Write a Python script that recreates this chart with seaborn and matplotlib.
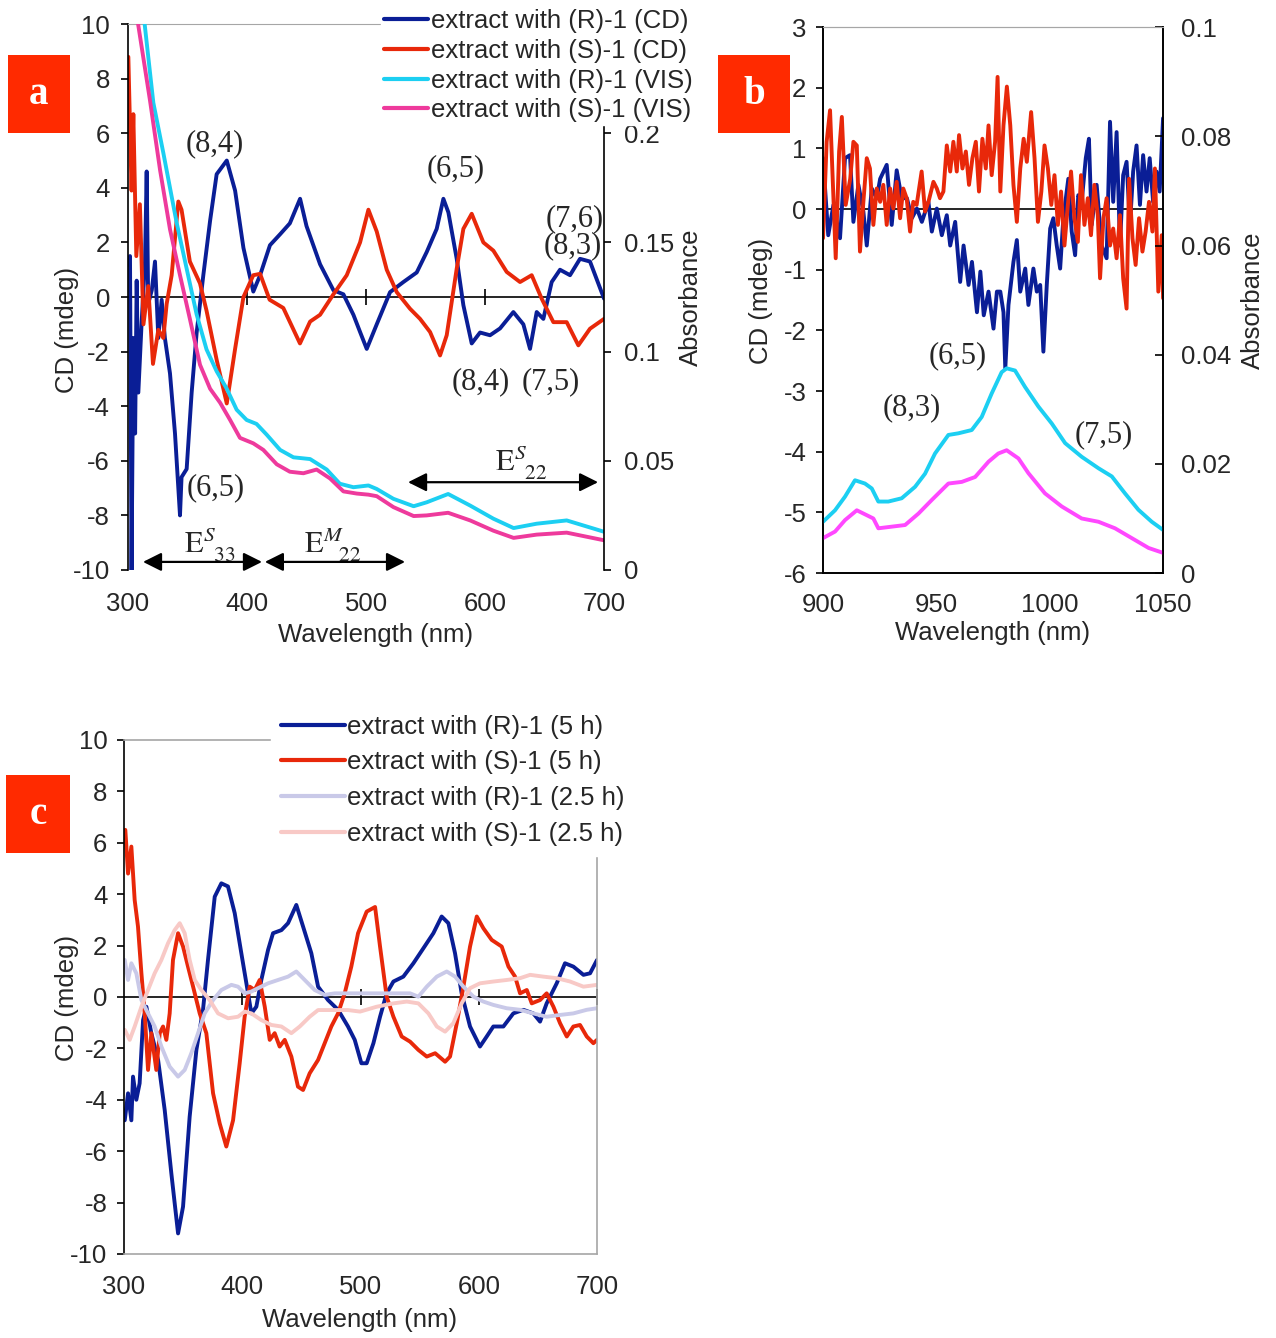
import matplotlib
matplotlib.use("Agg")
import matplotlib.pyplot as plt
import seaborn as sns
from matplotlib.lines import Line2D
from matplotlib.patches import Rectangle

# ---------------- panel a : 300-700 nm ----------------
A_R_CD_WL = [300.0, 301.7, 303.0, 304.5, 306.0, 307.3, 308.7, 311.5, 314.3, 315.7,
             317.0, 320.0, 322.7, 325.5, 328.3, 331.0, 335.3, 339.5, 343.7, 345.0,
             349.3, 353.5, 357.7, 363.3, 369.0, 374.5, 383.0, 390.0, 397.0, 405.3,
             411.0, 419.3, 427.8, 436.0, 444.6, 450.0, 461.4, 472.6, 481.0, 489.4,
             495.0, 500.6, 509.0, 520.2, 531.4, 542.6, 551.0, 559.4, 565.0, 569.2,
             576.2, 581.8, 588.8, 595.8, 604.2, 612.6, 623.8, 632.2, 637.8, 643.4,
             649.0, 656.0, 663.0, 671.4, 679.8, 688.2, 700.0]
A_R_CD = [1.2, 1.5, -10.0, -1.5, -5.0, 0.6, -3.5, -0.9, 1.3, 4.6,
          -0.25, 0.25, 1.3, -1.5, -0.1, -1.5, -2.8, -5.0, -8.0, -6.6,
          -6.3, -3.5, -1.3, 0.8, 2.8, 4.5, 5.0, 3.9, 1.8, 0.2,
          0.8, 1.9, 2.3, 2.7, 3.6, 2.6, 1.2, 0.25, 0.1, -0.65,
          -1.28, -1.9, -1.0, 0.18, 0.55, 0.9, 1.65, 2.5, 3.6, 3.1,
          1.4, -0.3, -1.7, -1.3, -1.4, -1.15, -0.55, -1.0, -1.9, -0.55,
          -0.8, 0.55, 1.0, 0.8, 1.4, 1.3, -0.06]

A_S_CD_WL = [300.3, 303.0, 304.5, 307.0, 310.0, 313.0, 317.0, 321.0, 325.5, 329.7,
             332.5, 336.7, 342.3, 345.0, 352.0, 360.5, 366.0, 374.5, 383.0, 390.0,
             397.0, 405.3, 411.0, 419.0, 430.5, 444.5, 453.0, 461.4, 472.6, 483.8,
             495.0, 502.0, 509.0, 517.4, 525.8, 537.0, 545.4, 553.8, 562.2, 567.8,
             576.2, 581.8, 588.8, 598.6, 607.0, 618.2, 629.4, 639.2, 647.6, 657.4,
             668.6, 678.4, 688.2, 700.0]
A_S_CD = [8.8, 3.9, 6.7, 1.5, 3.4, -1.0, 0.4, -2.45, -1.2, -1.5,
          -0.25, 0.8, 3.5, 3.2, 1.3, 0.5, -0.5, -2.3, -3.9, -1.9,
          0.0, 0.8, 0.85, -0.1, -0.4, -1.7, -0.9, -0.65, 0.1, 0.8,
          2.0, 3.2, 2.4, 1.0, 0.18, -0.43, -0.8, -1.28, -2.14, -1.4,
          1.04, 2.5, 3.05, 2.0, 1.7, 0.92, 0.55, 0.8, -0.06, -0.92,
          -0.92, -1.77, -1.16, -0.8]

A_R_VIS_WL = [314.0, 321.3, 329.7, 340.9, 349.3, 357.7, 366.0, 374.5, 383.0, 391.3,
              399.7, 408.0, 416.5, 427.8, 439.0, 453.0, 467.0, 478.0, 489.4, 502.0,
              509.0, 523.0, 540.0, 551.0, 569.0, 587.5, 607.0, 624.0, 643.4, 668.6,
              691.0, 700.0]
A_R_VIS = [0.25, 0.214, 0.191, 0.159, 0.138, 0.117, 0.101, 0.091, 0.083, 0.0734,
           0.0687, 0.0669, 0.062, 0.055, 0.0516, 0.0508, 0.046, 0.0395, 0.0379, 0.0387,
           0.0371, 0.0326, 0.0292, 0.031, 0.0348, 0.0295, 0.0235, 0.0192, 0.0212, 0.0227,
           0.019, 0.0175]

A_S_VIS_WL = [308.5, 318.5, 327.0, 335.3, 343.7, 352.0, 360.5, 369.0, 377.4, 385.8,
              394.1, 405.3, 413.7, 425.0, 436.0, 447.4, 458.5, 469.8, 481.0, 492.2,
              502.0, 509.0, 523.0, 540.0, 551.0, 569.0, 587.5, 607.0, 624.0, 643.4,
              668.6, 700.0]
A_S_VIS = [0.25, 0.215, 0.183, 0.156, 0.135, 0.115, 0.094, 0.083, 0.0766, 0.0687,
           0.0605, 0.058, 0.055, 0.0484, 0.045, 0.0443, 0.046, 0.0419, 0.036, 0.035,
           0.0345, 0.0338, 0.0288, 0.0247, 0.025, 0.0262, 0.0227, 0.018, 0.0147, 0.0162,
           0.0171, 0.0136]

A_LABELS = ["extract with (R)-1 (CD)", "extract with (S)-1 (CD)",
            "extract with (R)-1 (VIS)", "extract with (S)-1 (VIS)"]
A_XTICKS = [300, 400, 500, 600, 700]
A_CD_TICKS = [-10, -8, -6, -4, -2, 0, 2, 4, 6, 8, 10]
A_ABS_TICKS = [0, 0.05, 0.1, 0.15, 0.2]
A_ABS_LABELS = ["0", "0.05", "0.1", "0.15", "0.2"]
A_ZERO_TICKS = [400, 500, 600]

# ---------------- panel b : 900-1050 nm ----------------
B_R_CD_WL = [900.0, 902.3, 904.6, 907.5, 909.7, 911.9, 913.4, 915.6, 917.8, 919.3,
             921.5, 923.7, 925.2, 928.1, 930.3, 932.5, 934.7, 937.0, 939.2, 941.4,
             943.6, 946.5, 948.0, 950.2, 952.4, 954.6, 956.1, 958.3, 960.5, 962.0,
             964.2, 965.7, 967.9, 969.4, 970.9, 973.0, 975.2, 976.7, 978.2, 979.6,
             980.4, 981.8, 984.0, 985.5, 987.0, 989.2, 990.6, 992.8, 994.3, 995.8,
             997.2, 998.7, 1000.2, 1001.6, 1003.1, 1004.6, 1006.0, 1008.2, 1009.7, 1011.2,
             1012.6, 1014.1, 1015.9, 1017.3, 1018.5, 1020.7, 1022.9, 1025.1, 1026.6, 1028.0,
             1029.5, 1031.0, 1032.4, 1033.9, 1035.4, 1036.8, 1038.3, 1039.8, 1041.2, 1042.7,
             1044.1, 1045.6, 1047.1, 1048.5, 1050.0]
B_R_CD = [0.84, -0.43, 0.07, -0.48, 0.84, 0.89, -0.21, 0.4, -0.04, -0.6,
          0.34, 0.18, 0.5, 0.73, -0.26, 0.64, 0.18, 0.18, -0.15, 0.01,
          -0.21, 0.12, -0.37, 0.01, -0.43, -0.1, -0.6, -0.21, -1.2, -0.6,
          -1.25, -0.87, -1.7, -1.03, -1.75, -1.36, -1.97, -1.36, -1.36, -1.7,
          -2.63, -1.58, -0.87, -0.51, -1.36, -0.98, -1.58, -0.98, -1.36, -1.25,
          -2.35, -1.25, -0.32, -0.15, -0.6, -0.98, -0.15, 0.5, -0.37, -0.76,
          0.23, 0.12, 0.84, 1.16, -0.26, 0.4, -0.6, -0.81, 1.44, 0.12,
          1.27, -0.6, 0.56, 0.78, -0.26, 0.62, 1.05, 0.07, 0.89, 0.29,
          0.84, 0.12, 0.62, 0.29, 1.5]

B_S_CD_WL = [900.0, 901.6, 903.1, 904.6, 905.6, 907.1, 908.3, 910.0, 912.0, 913.4,
             914.9, 916.3, 917.8, 919.3, 920.7, 922.2, 923.7, 925.2, 926.6, 928.1,
             929.6, 931.0, 932.5, 934.0, 935.4, 936.9, 938.4, 939.8, 941.3, 943.5,
             945.0, 946.5, 948.7, 950.2, 951.6, 953.1, 954.6, 956.1, 957.5, 959.0,
             960.0, 961.5, 963.0, 964.4, 965.9, 967.4, 968.8, 970.3, 971.8, 973.0,
             974.4, 975.9, 977.0, 978.2, 979.6, 981.1, 982.6, 984.0, 985.5, 987.0,
             988.5, 989.9, 991.8, 993.3, 994.8, 996.3, 997.7, 999.2, 1000.7, 1002.1,
             1003.6, 1005.0, 1006.5, 1008.0, 1009.4, 1010.9, 1012.4, 1013.8, 1015.3, 1016.8,
             1018.2, 1019.7, 1021.2, 1022.2, 1023.7, 1025.1, 1026.6, 1028.0, 1029.5, 1031.0,
             1032.4, 1033.9, 1035.0, 1036.5, 1037.9, 1039.4, 1040.9, 1042.3, 1043.8, 1045.3,
             1046.4, 1047.9, 1049.4, 1050.0]
B_S_CD = [-0.48, 1.11, 1.63, 0.18, -0.81, 0.95, 1.52, 0.07, 0.5, 1.11,
          1.05, -0.7, 0.12, 0.84, 0.67, -0.26, 0.34, 0.12, 0.4, -0.26,
          0.34, 0.01, 0.45, -0.15, 0.34, 0.18, -0.37, 0.12, 0.07, 0.62,
          -0.04, 0.12, 0.45, 0.34, 0.18, 0.29, 1.05, 0.62, 1.11, 0.62,
          1.22, 0.67, 0.95, 0.4, 0.84, 1.11, 0.29, 1.16, 0.67, 1.38,
          0.56, 1.11, 2.18, 0.29, 1.38, 2.02, 1.38, 0.4, -0.21, 0.67,
          1.16, 0.78, 1.6, 0.84, -0.21, 0.29, 1.05, 0.67, 0.07, 0.56,
          -0.26, 0.29, -0.6, 0.07, 0.62, -0.15, -0.54, 0.56, -0.26, 0.18,
          -0.43, 0.4, -0.1, -1.14, -0.15, 0.18, -0.6, -0.32, -0.81, -0.1,
          -1.14, -1.64, 0.5, -0.48, -0.92, -0.15, -0.7, -0.37, 0.12, -0.37,
          0.67, -1.36, -0.43, -1.47]

B_R_VIS_WL = [900.0, 905.3, 909.7, 914.1, 918.5, 921.5, 924.4, 928.8, 934.7, 940.6,
              945.0, 949.4, 955.3, 959.7, 965.6, 970.0, 974.4, 978.8, 981.0, 984.7,
              989.1, 995.0, 1000.9, 1006.8, 1014.1, 1021.5, 1027.4, 1033.2, 1039.1, 1045.0,
              1050.0]
B_R_VIS = [0.0094, 0.0115, 0.0140, 0.0170, 0.0164, 0.0155, 0.0131, 0.0131, 0.0137, 0.0158,
           0.0182, 0.0219, 0.0253, 0.0256, 0.0262, 0.0286, 0.0329, 0.0368, 0.0375, 0.0371,
           0.0341, 0.0305, 0.0274, 0.0238, 0.0213, 0.0192, 0.0177, 0.0146, 0.0116, 0.0094,
           0.0079]

B_S_VIS_WL = [900.0, 905.3, 909.7, 914.9, 919.3, 922.2, 924.4, 930.3, 936.2, 942.1,
              948.0, 955.3, 961.2, 967.1, 973.0, 977.3, 981.0, 986.2, 990.6, 997.9,
              1005.3, 1014.1, 1021.5, 1028.8, 1036.2, 1043.6, 1050.0]
B_S_VIS = [0.0064, 0.0076, 0.0097, 0.0115, 0.0106, 0.0100, 0.0082, 0.0085, 0.0088, 0.0109,
           0.0134, 0.0164, 0.0167, 0.0176, 0.0204, 0.0219, 0.0225, 0.0210, 0.0183, 0.0146,
           0.0122, 0.0100, 0.0094, 0.0082, 0.0064, 0.0046, 0.0037]

B_XTICKS = [900, 950, 1000, 1050]
B_CD_TICKS = [-6, -5, -4, -3, -2, -1, 0, 1, 2, 3]
B_ABS_TICKS = [0, 0.02, 0.04, 0.06, 0.08, 0.1]
B_ABS_LABELS = ["0", "0.02", "0.04", "0.06", "0.08", "0.1"]

# ---------------- panel c : 5 h vs 2.5 h ----------------
C_R5_WL = [300.6, 303.4, 306.2, 307.6, 310.4, 313.2, 316.1, 318.9, 323.1, 328.8,
           334.4, 340.0, 345.7, 349.9, 355.5, 361.2, 366.8, 371.0, 376.7, 382.3,
           387.9, 393.6, 399.2, 404.9, 407.7, 411.9, 416.1, 421.8, 426.0, 433.1,
           438.7, 445.7, 451.4, 458.4, 464.1, 472.5, 481.0, 489.4, 495.1, 500.7,
           505.2, 510.9, 516.5, 522.1, 527.8, 536.2, 544.7, 553.1, 561.6, 568.6,
           574.3, 579.9, 585.5, 592.6, 601.0, 606.7, 612.3, 620.8, 629.2, 637.7,
           646.1, 651.8, 657.4, 665.9, 672.9, 680.0, 688.5, 694.1, 700.0]
C_R5 = [-4.8, -3.75, -4.8, -3.1, -4.0, -3.36, -0.9, -0.38, -1.41, -2.45,
        -4.4, -6.86, -9.2, -8.16, -4.66, -2.06, -0.5, 1.44, 3.9, 4.42,
        4.3, 3.26, 1.7, 0.14, -0.64, -0.38, 0.66, 1.83, 2.48, 2.6,
        2.87, 3.58, 2.74, 1.7, 0.4, -0.12, -0.5, -1.15, -1.67, -2.58,
        -2.58, -1.8, -0.77, 0.14, 0.6, 0.79, 1.31, 1.89, 2.48, 3.13,
        2.87, 1.7, 0.14, -1.15, -1.93, -1.54, -1.15, -1.15, -0.64, -0.5,
        -0.64, -0.96, -0.25, 0.53, 1.31, 1.18, 0.86, 0.92, 1.44]

C_S5_WL = [301.1, 303.4, 306.2, 309.0, 311.8, 314.7, 317.5, 320.3, 323.1, 327.3,
           330.2, 333.0, 335.8, 338.6, 341.4, 345.7, 349.9, 354.1, 358.4, 364.0,
           369.6, 375.3, 380.9, 386.5, 392.2, 397.8, 402.0, 406.3, 410.5, 414.7,
           419.0, 423.2, 427.4, 431.6, 435.9, 441.5, 447.1, 451.4, 457.0, 464.1,
           469.7, 475.3, 481.0, 486.6, 492.2, 497.9, 505.2, 512.3, 516.5, 522.1,
           527.8, 534.8, 541.9, 548.9, 556.0, 563.1, 571.5, 575.7, 581.4, 587.0,
           592.6, 598.3, 603.9, 610.9, 619.4, 625.1, 630.7, 634.9, 640.6, 644.8,
           651.8, 657.4, 663.1, 668.7, 674.4, 680.0, 685.6, 691.3, 696.9, 700.0]
C_S5 = [6.5, 4.8, 5.85, 3.77, 2.74, 0.92, -0.64, -2.84, -1.41, -2.84,
        -1.41, -1.15, -1.67, -0.64, 1.44, 2.48, 1.96, 1.18, 0.4, -0.64,
        -1.41, -3.75, -4.92, -5.82, -4.8, -2.58, -0.77, 0.4, 0.27, 0.66,
        -0.38, -1.67, -1.41, -1.93, -1.67, -2.32, -3.49, -3.62, -2.97, -2.45,
        -1.8, -1.15, -0.64, 0.14, 1.18, 2.48, 3.32, 3.5, 1.96, 0.01,
        -0.77, -1.54, -1.74, -2.06, -2.32, -2.19, -2.52, -2.32, -1.02, 0.4,
        1.96, 3.13, 2.67, 2.22, 1.96, 1.18, 0.79, 0.14, 0.27, -0.25,
        -0.12, 0.14, -0.38, -1.02, -1.54, -1.15, -1.09, -1.54, -1.8, -1.67]

C_R25_WL = [300.6, 303.4, 306.2, 310.4, 314.7, 320.3, 325.9, 331.6, 338.6, 345.7,
            351.3, 356.9, 362.6, 368.2, 375.3, 382.3, 390.8, 396.4, 402.0, 407.7,
            413.3, 421.8, 430.2, 438.7, 445.7, 452.8, 461.2, 469.7, 478.2, 492.2,
            513.7, 527.8, 541.9, 548.9, 556.0, 564.5, 572.9, 580.0, 587.0, 595.5,
            603.9, 612.3, 623.6, 634.9, 646.1, 657.4, 668.7, 680.0, 691.3, 700.0]
C_R25 = [1.44, 0.66, 1.31, 0.92, -0.12, -0.64, -1.15, -1.93, -2.71, -3.1,
         -2.84, -2.19, -1.41, -0.64, -0.12, 0.27, 0.47, 0.4, 0.14, 0.21,
         0.34, 0.53, 0.66, 0.79, 0.99, 0.66, 0.27, 0.08, 0.14, 0.14,
         0.14, 0.14, 0.14, 0.01, 0.4, 0.79, 0.99, 0.79, 0.4, 0.01,
         -0.18, -0.31, -0.44, -0.5, -0.64, -0.77, -0.7, -0.64, -0.5, -0.44]

C_S25_WL = [300.6, 304.8, 309.0, 314.7, 320.3, 325.9, 331.6, 337.2, 342.8, 347.1,
            351.3, 355.5, 359.8, 365.4, 372.4, 379.5, 388.0, 396.4, 402.0, 407.7,
            416.1, 424.6, 433.1, 441.5, 448.6, 457.0, 464.1, 475.3, 489.4, 499.6,
            513.7, 527.8, 539.1, 548.9, 557.4, 564.5, 571.5, 578.5, 585.5, 592.6,
            601.0, 612.3, 623.6, 634.9, 643.4, 654.7, 665.9, 677.2, 688.5, 700.0]
C_S25 = [-1.28, -1.67, -1.15, -0.38, 0.27, 0.92, 1.44, 2.09, 2.6, 2.87,
         2.48, 1.44, 0.66, 0.27, -0.12, -0.64, -0.83, -0.77, -0.57, -0.64,
         -0.9, -1.09, -1.15, -1.41, -1.15, -0.77, -0.51, -0.51, -0.51, -0.57,
         -0.38, -0.25, -0.18, -0.25, -0.64, -1.15, -1.35, -1.02, -0.25, 0.34,
         0.53, 0.6, 0.66, 0.73, 0.86, 0.79, 0.73, 0.6, 0.4, 0.47]

C_LABELS = ["extract with (R)-1 (5 h)", "extract with (S)-1 (5 h)",
            "extract with (R)-1 (2.5 h)", "extract with (S)-1 (2.5 h)"]
C_XTICKS = [300, 400, 500, 600, 700]
C_CD_TICKS = [-10, -8, -6, -4, -2, 0, 2, 4, 6, 8, 10]
C_ZERO_TICKS = [400, 500, 600, 700]

# colours
NAVY = "#0a1e96"
RED = "#e8280a"
CYAN = "#1ccff2"
PINK = "#ee3a9c"
MAGENTA = "#ff48ff"
LAVENDER = "#c9c9e8"
BLUSH = "#f8c9c6"
TAG = "#ff2a00"
GREY = "#a6a6a6"

FS = 18.5
LW = 2.8

sns.set_style("white")
plt.rcParams["font.family"] = ["Liberation Sans", "DejaVu Sans"]
plt.rcParams["axes.unicode_minus"] = False
plt.rcParams["mathtext.fontset"] = "stix"
SERIF = ["Liberation Serif", "DejaVu Serif"]


def line(ax, x, y, color):
    sns.lineplot(x=x, y=y, ax=ax, color=color, linewidth=LW, errorbar=None)


def note(ax, x, y, s, size=22):
    ax.text(x, y, s, ha="center", va="center", fontsize=size, family=SERIF, zorder=6)


def span(ax, x0, x1, y):
    ax.annotate("", xy=(x1, y), xytext=(x0, y),
                arrowprops=dict(arrowstyle="<|-|>", color="black", lw=1.6,
                                mutation_scale=28, shrinkA=0, shrinkB=0), zorder=6)


def tag(fig, x, y, w, h, letter):
    fig.add_artist(Rectangle((x / 1276, 1 - (y + h) / 1338), w / 1276, h / 1338,
                             transform=fig.transFigure, facecolor=TAG, edgecolor="none"))
    fig.text((x + w / 2) / 1276, 1 - (y + h / 2) / 1338, letter, color="white",
             fontsize=28, fontweight="bold", family=SERIF, ha="center", va="center")


fig = plt.figure(figsize=(12.76, 13.38), dpi=100)

# ---------------- panel a ----------------
ax = fig.add_axes([0.1003, 0.574, 0.3731, 0.408])
ax2 = ax.twinx()
ax.axhline(0, color="black", lw=1.2, zorder=1)
ax.plot(A_ZERO_TICKS, [0] * len(A_ZERO_TICKS), ls="none", marker="|", ms=11,
        mew=1.2, color="black", zorder=1)
line(ax, A_R_CD_WL, A_R_CD, NAVY)
line(ax, A_S_CD_WL, A_S_CD, RED)
line(ax2, A_R_VIS_WL, A_R_VIS, CYAN)
line(ax2, A_S_VIS_WL, A_S_VIS, PINK)

ax.set_xlim(300, 700)
ax.set_ylim(-10, 10)
ax2.set_ylim(0, 0.25)
ax.set_xticks(A_XTICKS)
ax.set_xticklabels([str(t) for t in A_XTICKS])
ax.set_yticks(A_CD_TICKS)
ax.set_yticklabels([str(t) for t in A_CD_TICKS])
ax2.set_yticks(A_ABS_TICKS)
ax2.set_yticklabels(A_ABS_LABELS)
ax.tick_params(axis="y", left=True, direction="out", length=5, width=1.2,
               pad=8, labelsize=FS, color="black")
ax.tick_params(axis="x", bottom=True, length=0, pad=16, labelsize=FS)
ax2.tick_params(axis="y", right=True, direction="out", length=5, width=1.2,
                pad=9, labelsize=FS, color="black")
for s in ["bottom", "right"]:
    ax.spines[s].set_visible(False)
ax.spines["left"].set_color("black")
ax.spines["left"].set_linewidth(1.2)
ax.spines["top"].set_color(GREY)
for s in ["bottom", "left", "top"]:
    ax2.spines[s].set_visible(False)
ax2.spines["right"].set_color("black")
ax2.spines["right"].set_linewidth(1.2)

ax.set_xlabel("Wavelength (nm)", fontsize=FS)
ax.set_ylabel("CD (mdeg)", fontsize=FS)
ax2.set_ylabel("Absorbance", fontsize=FS)
ax.xaxis.set_label_coords(0.519, -0.097)
ax.yaxis.set_label_coords(-0.103, 0.44)
ax2.yaxis.set_label_coords(1.158, 0.5)

note(ax2, 373, 0.1953, "(8,4)")
note(ax2, 575, 0.1838, "(6,5)")
note(ax2, 675.5, 0.1608, "(7,6)")
note(ax2, 674, 0.1484, "(8,3)")
note(ax2, 596, 0.0861, "(8,4)")
note(ax2, 655.5, 0.0861, "(7,5)")
note(ax2, 374, 0.0375, "(6,5)")
note(ax2, 369, 0.0115, r"$\mathrm{E}^{S}_{\ \ 33}$", 22)
note(ax2, 472, 0.0115, r"$\mathrm{E}^{M}_{\ \ \ 22}$", 22)
note(ax2, 630, 0.0490, r"$\mathrm{E}^{S}_{\ \ 22}$", 22)
span(ax2, 312.6, 412.6, 0.0037)
span(ax2, 415.0, 532.8, 0.0037)
span(ax2, 535.3, 695.0, 0.0402)

handles_a = [Line2D([], [], color=c, lw=3) for c in [NAVY, RED, CYAN, PINK]]
fig.legend(handles_a, A_LABELS, loc="upper left", bbox_to_anchor=(0.2985, 0.9954),
           fontsize=FS, frameon=True, facecolor="white", edgecolor="white",
           framealpha=1, fancybox=False, borderpad=0.12, borderaxespad=0,
           handlelength=1.71, handletextpad=0.12, labelspacing=0.22)

# ---------------- panel b ----------------
bx = fig.add_axes([0.645, 0.5717, 0.2665, 0.408])
bx2 = bx.twinx()
bx.axhline(0, color="black", lw=1.2, zorder=1)
line(bx, B_R_CD_WL, B_R_CD, NAVY)
line(bx, B_S_CD_WL, B_S_CD, RED)
line(bx2, B_R_VIS_WL, B_R_VIS, CYAN)
line(bx2, B_S_VIS_WL, B_S_VIS, MAGENTA)

bx.set_xlim(900, 1050)
bx.set_ylim(-6, 3)
bx2.set_ylim(0, 0.1)
bx.set_xticks(B_XTICKS)
bx.set_xticklabels([str(t) for t in B_XTICKS])
bx.set_yticks(B_CD_TICKS)
bx.set_yticklabels([str(t) for t in B_CD_TICKS])
bx2.set_yticks(B_ABS_TICKS)
bx2.set_yticklabels(B_ABS_LABELS)
bx.tick_params(axis="y", left=True, direction="out", length=5, width=1.2,
               pad=7, labelsize=FS, color="black")
bx.tick_params(axis="x", bottom=True, length=0, pad=14, labelsize=FS)
bx2.tick_params(axis="y", right=True, direction="in", length=6, width=1.2,
                pad=13, labelsize=FS, color="black")
for a in (bx, bx2):
    for s in ["left", "right", "bottom"]:
        a.spines[s].set_color("black")
        a.spines[s].set_linewidth(1.2)
    a.spines["top"].set_color(GREY)

bx.set_xlabel("Wavelength (nm)", fontsize=FS)
bx.set_ylabel("CD (mdeg)", fontsize=FS)
bx2.set_ylabel("Absorbance", fontsize=FS)
bx.xaxis.set_label_coords(0.5, -0.088)
bx.yaxis.set_label_coords(-0.147, 0.498)
bx2.yaxis.set_label_coords(1.229, 0.5)

note(bx, 959.5, -2.41, "(6,5)")
note(bx, 939.3, -3.28, "(8,3)")
note(bx, 1024, -3.72, "(7,5)")

# ---------------- panel c ----------------
cx = fig.add_axes([0.0972, 0.0628, 0.3707, 0.3842])
cx.axhline(0, color="black", lw=1.2, zorder=1)
cx.plot(C_ZERO_TICKS, [0] * len(C_ZERO_TICKS), ls="none", marker="|", ms=11,
        mew=1.2, color="black", zorder=1)
line(cx, C_R5_WL, C_R5, NAVY)
line(cx, C_S5_WL, C_S5, RED)
line(cx, C_R25_WL, C_R25, LAVENDER)
line(cx, C_S25_WL, C_S25, BLUSH)

cx.set_xlim(300, 700)
cx.set_ylim(-10, 10)
cx.set_xticks(C_XTICKS)
cx.set_xticklabels([str(t) for t in C_XTICKS])
cx.set_yticks(C_CD_TICKS)
cx.set_yticklabels([str(t) for t in C_CD_TICKS])
cx.tick_params(axis="y", left=True, direction="out", length=5, width=1.2,
               pad=7, labelsize=FS, color="black")
cx.tick_params(axis="x", bottom=True, length=0, pad=15, labelsize=FS)
cx.spines["left"].set_color("black")
cx.spines["left"].set_linewidth(1.2)
for s in ["top", "right", "bottom"]:
    cx.spines[s].set_color(GREY)
    cx.spines[s].set_linewidth(1.2)

cx.set_xlabel("Wavelength (nm)", fontsize=FS)
cx.set_ylabel("CD (mdeg)", fontsize=FS)
cx.xaxis.set_label_coords(0.497, -0.106)
cx.yaxis.set_label_coords(-0.095, 0.498)

handles_c = [Line2D([], [], color=c, lw=3) for c in [NAVY, RED, LAVENDER, BLUSH]]
fig.legend(handles_c, C_LABELS, loc="upper left", bbox_to_anchor=(0.2121, 0.4736),
           fontsize=FS, frameon=True, facecolor="white", edgecolor="white",
           framealpha=1, fancybox=False, borderpad=0.4, borderaxespad=0,
           handlelength=2.5, handletextpad=0.08, labelspacing=0.46)

# ---------------- panel tags ----------------
tag(fig, 8, 55, 62, 78, "a")
tag(fig, 718, 55, 72, 78, "b")
tag(fig, 6, 775, 64, 78, "c")

fig.savefig("out.png", dpi=100)
